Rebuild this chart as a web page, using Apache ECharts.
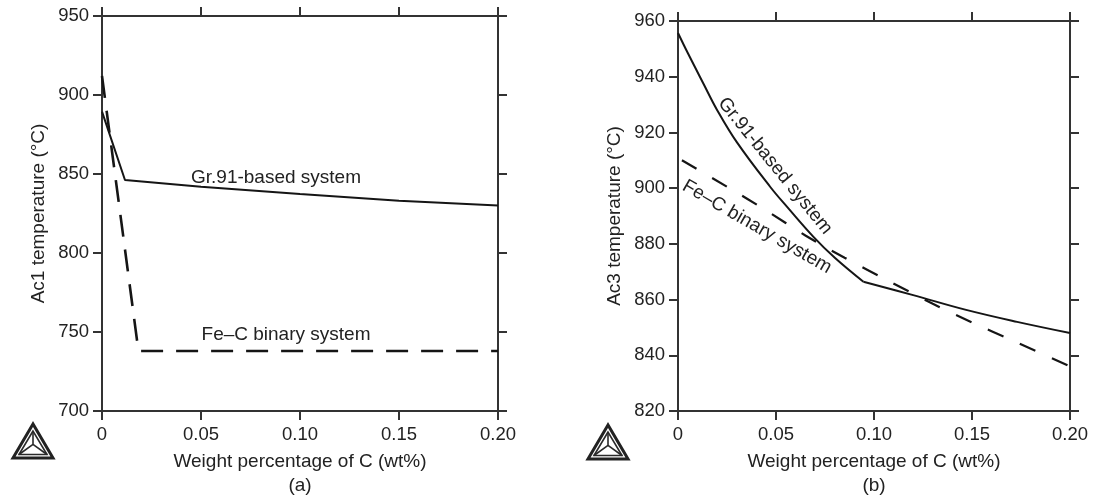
<!DOCTYPE html>
<html>
<head>
<meta charset="utf-8">
<title>Ac1 / Ac3 temperature vs C content</title>
<script src="https://cdn.jsdelivr.net/npm/echarts@6/dist/echarts.min.js"></script>
<style>
  html, body { margin: 0; padding: 0; background: #fff; }
  #chart { width: 1094px; height: 498px; }
</style>
</head>
<body>
<div id="chart"></div>
<script>
// tick labels shared by both x axes
const xTickLabels = ['0', '0.05', '0.10', '0.15', '0.20'];

// (a) Ac1 temperature
const ac1Gr91X = [0, 0.0116, 0.05, 0.10, 0.15, 0.20];
const ac1Gr91Y = [889.5, 846.2, 842, 837.3, 833, 830];
const ac1FeCX = [0, 0.0184, 0.20];
const ac1FeCY = [912, 738, 738];

// (b) Ac3 temperature, Gr.91 curve has a kink at 0.0946
const ac3Gr91X = [0, 0.005, 0.013, 0.02, 0.03, 0.047, 0.056, 0.069, 0.08, 0.0946, 0.12, 0.147, 0.173, 0.20];
const ac3Gr91Y = [955.7, 948.5, 937.5, 928, 916.5, 900.5, 893, 882.6, 875, 866.4, 861.6, 856.3, 852, 848];
const ac3Gr91Kink = 0.0946;
const ac3FeCX = [0.002, 0.025, 0.045, 0.065, 0.085, 0.108, 0.13, 0.15, 0.17, 0.20];
const ac3FeCY = [910, 900.5, 892, 883, 875, 866.5, 858.5, 851.8, 845.5, 836];

const axisColor = '#333';
const textColor = '#222';
const font = '"Liberation Sans", Arial, sans-serif';

function pairs(xs, ys) {
  return xs.map((x, i) => [x, ys[i]]);
}

function xAxis(grid, pos) {
  const main = pos === 'bottom';
  return {
    gridIndex: grid,
    type: 'value',
    position: pos,
    min: 0,
    max: 0.2,
    interval: 0.05,
    name: main ? 'Weight percentage of C (wt%)' : '',
    nameLocation: 'middle',
    nameGap: 41,
    nameTextStyle: { color: textColor, fontSize: 19, fontFamily: font },
    axisLine: { show: true, onZero: false, lineStyle: { color: axisColor, width: 2 } },
    axisTick: { show: true, inside: false, length: 9, lineStyle: { color: axisColor, width: 2 } },
    axisLabel: {
      show: main,
      margin: 14,
      color: textColor,
      fontSize: 18.5,
      fontFamily: font,
      formatter: (v, i) => xTickLabels[i]
    },
    splitLine: { show: false }
  };
}

function yAxis(grid, pos, min, max, step, name) {
  const main = pos === 'left';
  return {
    gridIndex: grid,
    type: 'value',
    position: pos,
    min: min,
    max: max,
    interval: step,
    name: main ? name : '',
    nameLocation: 'middle',
    nameGap: 54,
    nameTextStyle: { color: textColor, fontSize: 19, fontFamily: font },
    axisLine: { show: true, onZero: false, lineStyle: { color: axisColor, width: 2 } },
    axisTick: { show: true, inside: false, length: 9, lineStyle: { color: axisColor, width: 2 } },
    axisLabel: { show: main, margin: 13, color: textColor, fontSize: 18.5, fontFamily: font },
    splitLine: { show: false }
  };
}

function line(xi, yi, data, dash, width, smooth) {
  return {
    type: 'line',
    xAxisIndex: xi,
    yAxisIndex: yi,
    data: data,
    showSymbol: false,
    silent: true,
    smooth: smooth || false,
    lineStyle: { color: '#151515', width: width, type: dash || 'solid' },
    z: 3
  };
}

function label(text, x, y, deg) {
  return {
    type: 'text',
    x: x,
    y: y,
    rotation: -(deg || 0) * Math.PI / 180,
    style: {
      text: text,
      x: 0,
      y: 0,
      align: 'center',
      verticalAlign: 'middle',
      fill: textColor,
      font: '19px ' + font
    }
  };
}

// small triangle logo in the lower left of each panel
function logo(cx, top) {
  const h = 34, half = 20;
  const a = [cx, top], b = [cx - half, top + h], c = [cx + half, top + h];
  const m = [cx, top + h * 0.6];
  const ia = [cx, top + 7], ib = [cx - half + 6, top + h - 3.5], ic = [cx + half - 6, top + h - 3.5];
  const thin = { stroke: '#2a2a2a', fill: 'none', lineWidth: 1.6 };
  return {
    type: 'group',
    children: [
      { type: 'polygon', shape: { points: [a, b, c] }, style: { stroke: '#222', fill: 'none', lineWidth: 3 } },
      { type: 'polygon', shape: { points: [ia, ib, ic] }, style: thin },
      { type: 'polyline', shape: { points: [ia, m, ib] }, style: thin },
      { type: 'line', shape: { x1: m[0], y1: m[1], x2: ic[0], y2: ic[1] }, style: thin }
    ]
  };
}

const ac3Gr91 = pairs(ac3Gr91X, ac3Gr91Y);
const ac3Gr91Upper = ac3Gr91.filter(p => p[0] <= ac3Gr91Kink);
const ac3Gr91Lower = ac3Gr91.filter(p => p[0] >= ac3Gr91Kink);

const chart = echarts.init(document.getElementById('chart'), null, { renderer: 'canvas' });

chart.setOption({
  animation: false,
  backgroundColor: '#fff',
  grid: [
    { left: 102, top: 16, width: 396, height: 395 },
    { left: 678, top: 21, width: 392, height: 390 }
  ],
  xAxis: [
    xAxis(0, 'bottom'),
    xAxis(0, 'top'),
    xAxis(1, 'bottom'),
    xAxis(1, 'top')
  ],
  yAxis: [
    yAxis(0, 'left', 700, 950, 50, 'Ac1 temperature (°C)'),
    yAxis(0, 'right', 700, 950, 50, ''),
    yAxis(1, 'left', 820, 960, 20, 'Ac3 temperature (°C)'),
    yAxis(1, 'right', 820, 960, 20, '')
  ],
  series: [
    line(0, 0, pairs(ac1Gr91X, ac1Gr91Y), 'solid', 2),
    line(0, 0, pairs(ac1FeCX, ac1FeCY), [22, 13], 2.6),
    line(2, 2, ac3Gr91Upper, 'solid', 2, 0.4),
    line(2, 2, ac3Gr91Lower, 'solid', 2, 0.4),
    line(2, 2, pairs(ac3FeCX, ac3FeCY), [17, 18], 2.2, 0.3)
  ],
  graphic: [
    label('Gr.91-based system', 276, 178),
    label('Fe\u2013C binary system', 286, 335),
    label('Gr.91-based system', 775, 166, 51),
    label('Fe\u2013C binary system', 757, 227, 30),
    label('(a)', 300, 486),
    label('(b)', 874, 486),
    logo(33, 424),
    logo(608, 425)
  ]
});
</script>
</body>
</html>
